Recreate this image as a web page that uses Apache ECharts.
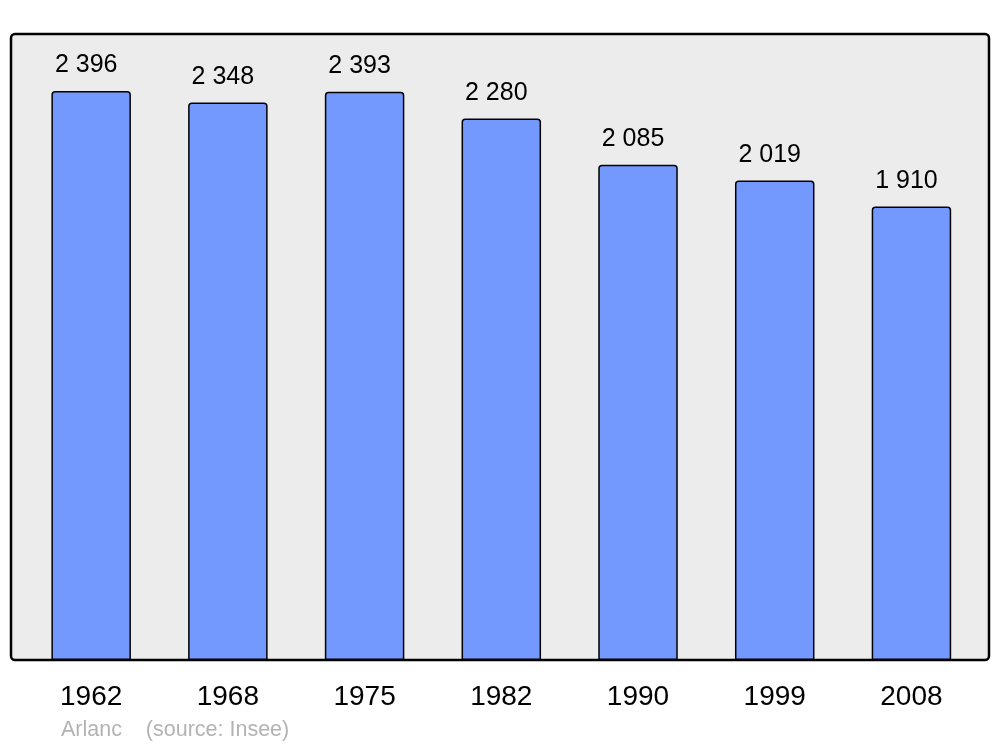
<!DOCTYPE html>
<html><head><meta charset="utf-8">
<script src="https://cdn.jsdelivr.net/npm/echarts@6/dist/echarts.min.js"></script>
<style>html,body{margin:0;padding:0;background:#fff}#c{width:1000px;height:747px}</style>
</head><body><div id="c"></div>
<script>
const years = ['1962','1968','1975','1982','1990','1999','2008'];
const population = [2396, 2348, 2393, 2280, 2085, 2019, 1910];
const fmt = v => String(v).replace(/\B(?=(\d{3})+(?!\d))/g, ' ');
const chart = echarts.init(document.getElementById('c'), null, {renderer:'canvas'});
chart.setOption({
  backgroundColor:'#ffffff',
  animation:false,
  grid:[
    {left:11, right:11, top:34, bottom:87, show:false},
    {left:22.8, width:957, top:34, bottom:87}
  ],
  xAxis:[
    {gridIndex:0, type:'value', show:false},
    {gridIndex:1, type:'category', data:years, axisLine:{show:false}, axisTick:{show:false},
     axisLabel:{fontFamily:'Liberation Sans', fontSize:28, color:'#000', margin:23}}
  ],
  yAxis:[
    {gridIndex:0, type:'value', show:false},
    {gridIndex:1, type:'value', min:0, max:2636, show:false}
  ],
  graphic:[
    {type:'rect', z:-10, shape:{x:11, y:34, width:978, height:626, r:4}, style:{fill:'#ececec', stroke:'#000', lineWidth:2.5}},
    {type:'text', left:61, top:719, style:{text:'Arlanc    (source: Insee)', fill:'#b3b3b3', font:'21.5px "Liberation Sans"'}}
  ],
  series:[{
    type:'bar', xAxisIndex:1, yAxisIndex:1, data:population, barWidth:79.5,
    itemStyle:{color:'#7399ff', borderColor:'#000', borderWidth:1.5, borderRadius:[3,3,0,0]},
    label:{show:true, position:'top', distance:13, offset:[-5,0], fontFamily:'Liberation Sans', fontSize:25, color:'#000', formatter:p=>fmt(p.value)}
  }]
});
</script></body></html>
